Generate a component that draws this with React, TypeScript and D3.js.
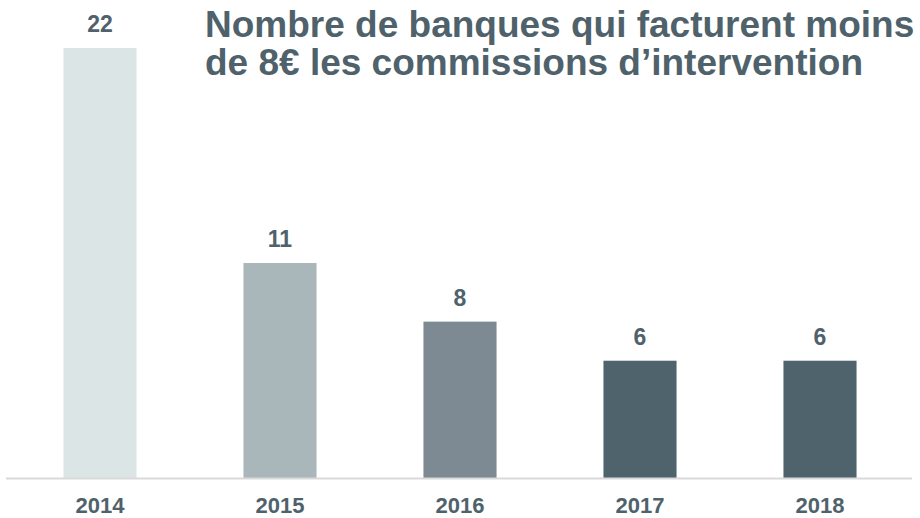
import React, { useRef, useEffect } from 'react';
import * as d3 from 'd3';

const years = ['2014', '2015', '2016', '2017', '2018'];
const banks = [22, 11, 8, 6, 6];
const barColors = ['#dce5e6', '#a9b7bb', '#7d8a93', '#4f636c', '#4f636c'];
const titleLines = ['Nombre de banques qui facturent moins', 'de 8€ les commissions d’intervention'];

const App = () => {
    const chartRef = useRef<SVGSVGElement>(null);

    useEffect(() => {
        const width = 920;
        const height = 518;
        const baseline = 478;
        const textColor = '#4f626b';

        const svg = d3.select(chartRef.current)
            .attr('width', width)
            .attr('height', height)
            .style('font-family', '"Liberation Sans", Arial, sans-serif');
        svg.selectAll('*').remove();

        const x = d3.scaleBand()
            .domain(years)
            .range([10, 910])
            .paddingInner(0.594)
            .paddingOuter(0.297);

        const y = d3.scaleLinear()
            .domain([0, 22])
            .range([baseline, 48]);

        svg.append('g')
            .selectAll('rect')
            .data(years)
            .join('rect')
            .attr('x', d => x(d)!)
            .attr('y', (d, i) => y(banks[i]))
            .attr('width', x.bandwidth())
            .attr('height', (d, i) => y(0) - y(banks[i]))
            .attr('fill', (d, i) => barColors[i]);

        svg.append('g')
            .selectAll('text')
            .data(years)
            .join('text')
            .attr('x', d => x(d)! + x.bandwidth() / 2)
            .attr('y', (d, i) => y(banks[i]) - 16)
            .attr('text-anchor', 'middle')
            .attr('font-size', 23)
            .attr('font-weight', 'bold')
            .attr('fill', textColor)
            .text((d, i) => banks[i]);

        svg.append('line')
            .attr('x1', 6)
            .attr('x2', 912)
            .attr('y1', baseline + 0.5)
            .attr('y2', baseline + 0.5)
            .attr('stroke', '#d9d9d9')
            .attr('stroke-width', 2);

        // year labels sit right at the bottom edge, as in the source
        svg.append('g')
            .selectAll('text')
            .data(years)
            .join('text')
            .attr('x', d => x(d)! + x.bandwidth() / 2)
            .attr('y', 513)
            .attr('text-anchor', 'middle')
            .attr('font-size', 22)
            .attr('font-weight', 'bold')
            .attr('fill', textColor)
            .text(d => d);

        svg.append('g')
            .selectAll('text')
            .data(titleLines)
            .join('text')
            .attr('x', 205)
            .attr('y', (d, i) => 37 + i * 38)
            .attr('font-size', 37)
            .attr('font-weight', 'bold')
            .attr('fill', textColor)
            .text(d => d);
    }, []);

    return <svg ref={chartRef} style={{ position: 'absolute', left: 0, top: 0 }}></svg>;
};

export default App;
